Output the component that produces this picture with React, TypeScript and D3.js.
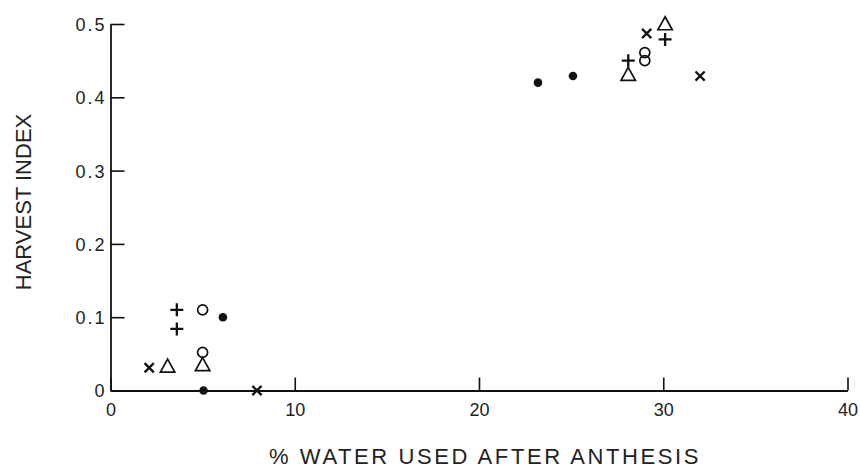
import * as d3 from "d3";
import { useEffect, useRef } from "react";

type Pt = [number, number];

// % water used after anthesis vs harvest index, one array per marker kind
const filledDots: Pt[] = [[5.05, 0], [6.1, 0.1], [23.2, 0.42], [25.1, 0.429]];
const openCircles: Pt[] = [[5.0, 0.11], [5.0, 0.052], [29.0, 0.461], [29.0, 0.45]];
const plusMarks: Pt[] = [[3.6, 0.11], [3.6, 0.084], [28.1, 0.45], [30.1, 0.479]];
const crossMarks: Pt[] = [[2.1, 0.031], [7.95, 0], [29.1, 0.487], [32.0, 0.429]];
const triangles: Pt[] = [[3.1, 0.034], [5.0, 0.036], [28.1, 0.432], [30.1, 0.501]];

const xTicks = [0, 10, 20, 30, 40];
const yTicks = [0, 0.1, 0.2, 0.3, 0.4, 0.5];

const App = () => {
  const ref = useRef<SVGSVGElement>(null);

  useEffect(() => {
    const width = 860;
    const height = 469;
    const font = "'Liberation Sans', Arial, sans-serif";
    const ink = "#111";

    const x = d3.scaleLinear().domain([0, 40]).range([110.5, 847.5]);
    const y = d3.scaleLinear().domain([0, 0.5]).range([390.5, 24]);

    const svg = d3.select(ref.current)
      .attr("width", width)
      .attr("height", height);
    svg.selectAll("*").remove();

    svg.append("rect").attr("width", width).attr("height", height).attr("fill", "#fff");

    const xAxis = d3.axisBottom(x)
      .tickValues(xTicks)
      .tickSizeInner(-13)
      .tickSizeOuter(0)
      .tickPadding(13)
      .tickFormat((d) => String(d));

    const yAxis = d3.axisLeft(y)
      .tickValues(yTicks)
      .tickSizeInner(-14)
      .tickSizeOuter(0)
      .tickPadding(4)
      .tickFormat((d) => (+d === 0 ? "0" : d3.format(".1f")(+d)));

    const gx = svg.append("g")
      .attr("transform", `translate(0,${y(0)})`)
      .call(xAxis);
    const gy = svg.append("g")
      .attr("transform", `translate(${x(0)},0)`)
      .call(yAxis);

    [gx, gy].forEach((g) => {
      g.select(".domain").attr("stroke", ink).attr("stroke-width", 1.8);
      g.selectAll(".tick line").attr("stroke", ink).attr("stroke-width", 1.6);
      g.selectAll(".tick text")
        .attr("fill", "#222")
        .attr("font-family", font)
        .attr("font-size", 18);
    });
    gy.selectAll(".tick text").attr("dy", "0.36em").attr("letter-spacing", 2);

    svg.append("text")
      .attr("x", 485)
      .attr("y", 464)
      .attr("text-anchor", "middle")
      .attr("font-family", font)
      .attr("font-size", 22)
      .attr("letter-spacing", 2.6)
      .attr("fill", "#222")
      .text("% WATER USED AFTER ANTHESIS");

    svg.append("text")
      .attr("transform", `translate(31,202) rotate(-90)`)
      .attr("text-anchor", "middle")
      .attr("font-family", font)
      .attr("font-size", 22)
      .attr("fill", "#222")
      .text("HARVEST INDEX");

    const marks = svg.append("g");

    marks.selectAll(".dot")
      .data(filledDots)
      .join("circle")
      .attr("cx", (d) => x(d[0]))
      .attr("cy", (d) => y(d[1]))
      .attr("r", 4.3)
      .attr("fill", ink);

    marks.selectAll(".ring")
      .data(openCircles)
      .join("circle")
      .attr("cx", (d) => x(d[0]))
      .attr("cy", (d) => y(d[1]))
      .attr("r", 5)
      .attr("fill", "none")
      .attr("stroke", ink)
      .attr("stroke-width", 1.7);

    marks.selectAll(".plus")
      .data(plusMarks)
      .join("path")
      .attr("d", (d) => {
        const cx = x(d[0]), cy = y(d[1]), s = 6.5;
        return `M${cx - s},${cy}H${cx + s}M${cx},${cy - s}V${cy + s}`;
      })
      .attr("stroke", ink)
      .attr("stroke-width", 2.3);

    marks.selectAll(".cross")
      .data(crossMarks)
      .join("path")
      .attr("d", (d) => {
        const cx = x(d[0]), cy = y(d[1]), s = 4.6;
        return `M${cx - s},${cy - s}L${cx + s},${cy + s}M${cx - s},${cy + s}L${cx + s},${cy - s}`;
      })
      .attr("stroke", ink)
      .attr("stroke-width", 2.3);

    marks.selectAll(".tri")
      .data(triangles)
      .join("path")
      .attr("d", (d) => {
        const cx = x(d[0]), cy = y(d[1]), w = 7.2, h = 6.5;
        return `M${cx},${cy - h}L${cx + w},${cy + h}L${cx - w},${cy + h}Z`;
      })
      .attr("fill", "none")
      .attr("stroke", ink)
      .attr("stroke-width", 1.7);
  }, []);

  return (
    <svg ref={ref} style={{ position: "absolute", left: 0, top: 0, display: "block" }}></svg>
  );
};

export default App;
